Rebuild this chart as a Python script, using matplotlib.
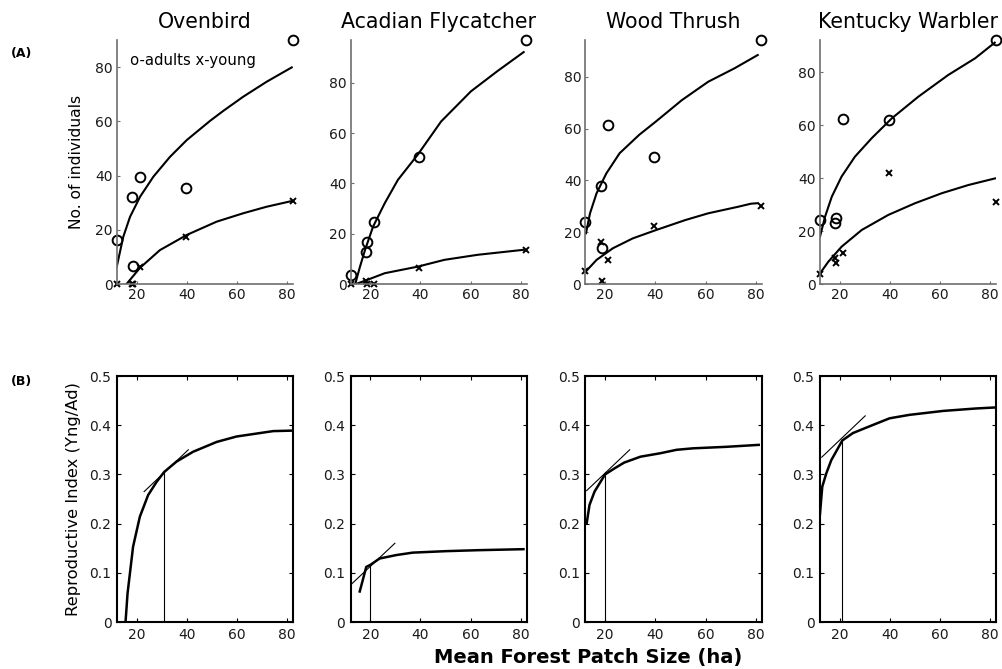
import matplotlib
matplotlib.use("Agg")
import matplotlib.pyplot as plt

plt.rcParams['font.family'] = ['DejaVu Sans']

species = ["Ovenbird", "Acadian Flycatcher", "Wood Thrush", "Kentucky Warbler"]

# --- Panel A: observed counts (x = mean forest patch size, ha) ---
patch_x = [12.2, 18.2, 18.6, 21.3, 39.5, 82.2]
adults = {
    "Ovenbird":           [16.2, 32.0, 6.8, 39.6, 35.3, 90.0],
    "Acadian Flycatcher": [3.6, 12.6, 16.6, 24.8, 50.5, 97.0],
    "Wood Thrush":        [24.0, 37.9, 14.0, 61.4, 49.1, 94.2],
    "Kentucky Warbler":   [24.2, 22.9, 24.8, 62.4, 62.0, 92.2],
}
young = {
    "Ovenbird":           [0.0, 0.0, 0.0, 6.4, 17.5, 30.6],
    "Acadian Flycatcher": [0.0, 1.0, 0.0, 0.0, 6.5, 13.5],
    "Wood Thrush":        [5.0, 16.1, 1.2, 9.3, 22.5, 30.2],
    "Kentucky Warbler":   [3.7, 10.0, 7.8, 11.6, 41.8, 30.9],
}
ymax_A = {"Ovenbird": 90, "Acadian Flycatcher": 97, "Wood Thrush": 94.2, "Kentucky Warbler": 92.2}

# fitted curves
fit_adult_x = {
    "Ovenbird":           [12.1, 14.7, 17.4, 21.4, 26.7, 33.3, 40.0, 49.3, 54.6, 62.5, 71.8, 81.8],
    "Acadian Flycatcher": [14.0, 15.9, 17.9, 21.1, 25.8, 31.0, 38.9, 48.2, 60.1, 70.6, 81.1],
    "Wood Thrush":        [12.4, 14.0, 16.6, 20.5, 25.8, 33.6, 40.2, 50.6, 61.1, 71.6, 80.8],
    "Kentucky Warbler":   [12.2, 14.2, 16.9, 20.8, 26.1, 32.8, 40.8, 51.4, 63.3, 74.0, 81.8],
}
fit_adult_y = {
    "Ovenbird":           [6.4, 17.4, 24.8, 32.2, 39.6, 46.9, 53.1, 60.2, 63.9, 69.1, 74.6, 79.9],
    "Acadian Flycatcher": [0.0, 6.9, 13.5, 22.8, 32.2, 41.4, 51.4, 64.6, 76.6, 84.6, 92.2],
    "Wood Thrush":        [19.6, 27.3, 35.0, 42.7, 50.5, 57.6, 62.7, 71.0, 78.1, 83.3, 88.4],
    "Kentucky Warbler":   [17.9, 25.4, 33.0, 40.6, 48.1, 55.1, 62.6, 70.8, 79.0, 85.3, 91.2],
}
fit_young_x = {
    "Ovenbird":           [16.0, 21.4, 29.3, 40.0, 51.9, 62.5, 71.8, 81.8],
    "Acadian Flycatcher": [14.3, 17.9, 25.8, 38.9, 49.5, 62.7, 81.1],
    "Wood Thrush":        [12.2, 16.6, 23.1, 31.0, 40.2, 52.0, 61.1, 72.9, 78.1, 80.8],
    "Kentucky Warbler":   [12.2, 15.5, 20.8, 28.8, 39.4, 50.0, 60.7, 71.3, 81.9],
}
fit_young_y = {
    "Ovenbird":           [0.0, 6.0, 12.5, 18.1, 23.0, 26.1, 28.5, 30.6],
    "Acadian Flycatcher": [0.0, 1.3, 4.3, 6.9, 9.6, 11.6, 13.6],
    "Wood Thrush":        [4.7, 9.3, 13.8, 17.6, 20.8, 24.7, 27.3, 29.8, 31.0, 31.2],
    "Kentucky Warbler":   [4.0, 8.4, 14.1, 20.4, 26.1, 30.5, 34.3, 37.4, 39.9],
}

# --- Panel B: reproductive index curves ---
ri_x = {
    "Ovenbird":           [15.6, 16.4, 18.6, 21.3, 24.6, 28.0, 31.0, 35.9, 42.5, 51.9, 59.8, 69.1, 74.4, 82.1],
    "Acadian Flycatcher": [15.8, 18.4, 20.0, 23.7, 30.3, 36.9, 50.1, 63.2, 81.0],
    "Wood Thrush":        [12.65, 13.8, 15.8, 20.0, 23.7, 27.6, 34.1, 42.0, 48.5, 55.0, 68.1, 81.2],
    "Kentucky Warbler":   [12.1, 13.1, 14.7, 16.7, 21.1, 25.3, 30.6, 39.9, 47.8, 61.2, 74.4, 81.8],
}
ri_y = {
    "Ovenbird":           [0.0, 0.058, 0.153, 0.214, 0.258, 0.285, 0.305, 0.326, 0.346, 0.366, 0.377, 0.384, 0.388, 0.389],
    "Acadian Flycatcher": [0.062, 0.112, 0.116, 0.129, 0.136, 0.141, 0.144, 0.146, 0.148],
    "Wood Thrush":        [0.200, 0.238, 0.265, 0.300, 0.312, 0.324, 0.336, 0.343, 0.350, 0.353, 0.356, 0.360],
    "Kentucky Warbler":   [0.214, 0.275, 0.302, 0.329, 0.369, 0.384, 0.395, 0.414, 0.421, 0.429, 0.434, 0.436],
}
tangent_x = {
    "Ovenbird": [23.0, 40.6], "Acadian Flycatcher": [12.5, 29.8],
    "Wood Thrush": [12.65, 29.8], "Kentucky Warbler": [12.9, 30.2],
}
tangent_y = {
    "Ovenbird": [0.265, 0.350], "Acadian Flycatcher": [0.077, 0.160],
    "Wood Thrush": [0.267, 0.350], "Kentucky Warbler": [0.335, 0.419],
}
thresh_x = {"Ovenbird": 31.0, "Acadian Flycatcher": 20.0, "Wood Thrush": 20.0, "Kentucky Warbler": 21.1}
thresh_y = {"Ovenbird": 0.305, "Acadian Flycatcher": 0.116, "Wood Thrush": 0.305, "Kentucky Warbler": 0.370}

xticks = [20, 40, 60, 80]
yticks_A = [0, 20, 40, 60, 80]
yticks_B = [0, 0.1, 0.2, 0.3, 0.4, 0.5]
yticklabels_B = ["0", "0.1", "0.2", "0.3", "0.4", "0.5"]

W, H = 1003, 669
fig = plt.figure(figsize=(W / 100, H / 100), dpi=100)

lefts = [117, 350.7, 585.5, 820]
aw = 176
gray = '#6e6e6e'
txt = '#1a1a1a'
xlim = (12.2, 82.3)

for i, sp in enumerate(species):
    # Top row
    ax = fig.add_axes([lefts[i] / W, (H - 284) / H, aw / W, 244 / H])
    ax.plot(fit_adult_x[sp], fit_adult_y[sp], color='black', lw=1.5)
    ax.plot(fit_young_x[sp], fit_young_y[sp], color='black', lw=1.5)
    ax.plot(patch_x, adults[sp], 'o', mfc='none', mec='black', ms=7, mew=1.4, clip_on=False)
    ax.plot(patch_x, young[sp], 'x', color='black', ms=3.8, mew=1.4, clip_on=False)
    ax.set_xlim(*xlim)
    ax.set_ylim(0, ymax_A[sp])
    ax.set_xticks(xticks)
    ax.set_yticks(yticks_A)
    for s in ['top', 'right']:
        ax.spines[s].set_visible(False)
    for s in ['left', 'bottom']:
        ax.spines[s].set_color(gray)
        ax.spines[s].set_linewidth(1.2)
    ax.tick_params(direction='in', length=2.5, color=gray, labelsize=10, pad=3, labelcolor=txt)
    ax.set_title(sp, fontsize=14.8, pad=9)
    if i == 0:
        ax.set_ylabel("No. of individuals", fontsize=11.2, labelpad=8)
        ax.text(17.5, 82.6, "o-adults x-young", fontsize=10.7, va='center', ha='left')

    # Bottom row
    bx = fig.add_axes([lefts[i] / W, (H - 622) / H, aw / W, 246 / H])
    bx.plot(ri_x[sp], ri_y[sp], color='black', lw=1.8)
    bx.plot(tangent_x[sp], tangent_y[sp], color='black', lw=0.8)
    bx.plot([thresh_x[sp], thresh_x[sp]], [0, thresh_y[sp]], color='black', lw=0.8)
    bx.set_xlim(*xlim)
    bx.set_ylim(0, 0.5)
    bx.set_xticks(xticks)
    bx.set_yticks(yticks_B)
    bx.set_yticklabels(yticklabels_B)
    for s in bx.spines.values():
        s.set_linewidth(1.5)
        s.set_color('black')
    bx.tick_params(direction='in', length=3, top=True, right=True, labelsize=10, pad=4, labelcolor=txt)
    if i == 0:
        bx.set_ylabel("Reproductive Index (Yng/Ad)", fontsize=11.8, labelpad=6)

fig.text(22 / W, 1 - 53 / H, "(A)", fontsize=9, fontweight='bold', ha='center', va='center')
fig.text(22 / W, 1 - 381 / H, "(B)", fontsize=9, fontweight='bold', ha='center', va='center')
fig.text(588 / W, 1 - 657 / H, "Mean Forest Patch Size (ha)", fontsize=14, fontweight='bold',
         ha='center', va='center')

fig.savefig("out.png", dpi=100)
